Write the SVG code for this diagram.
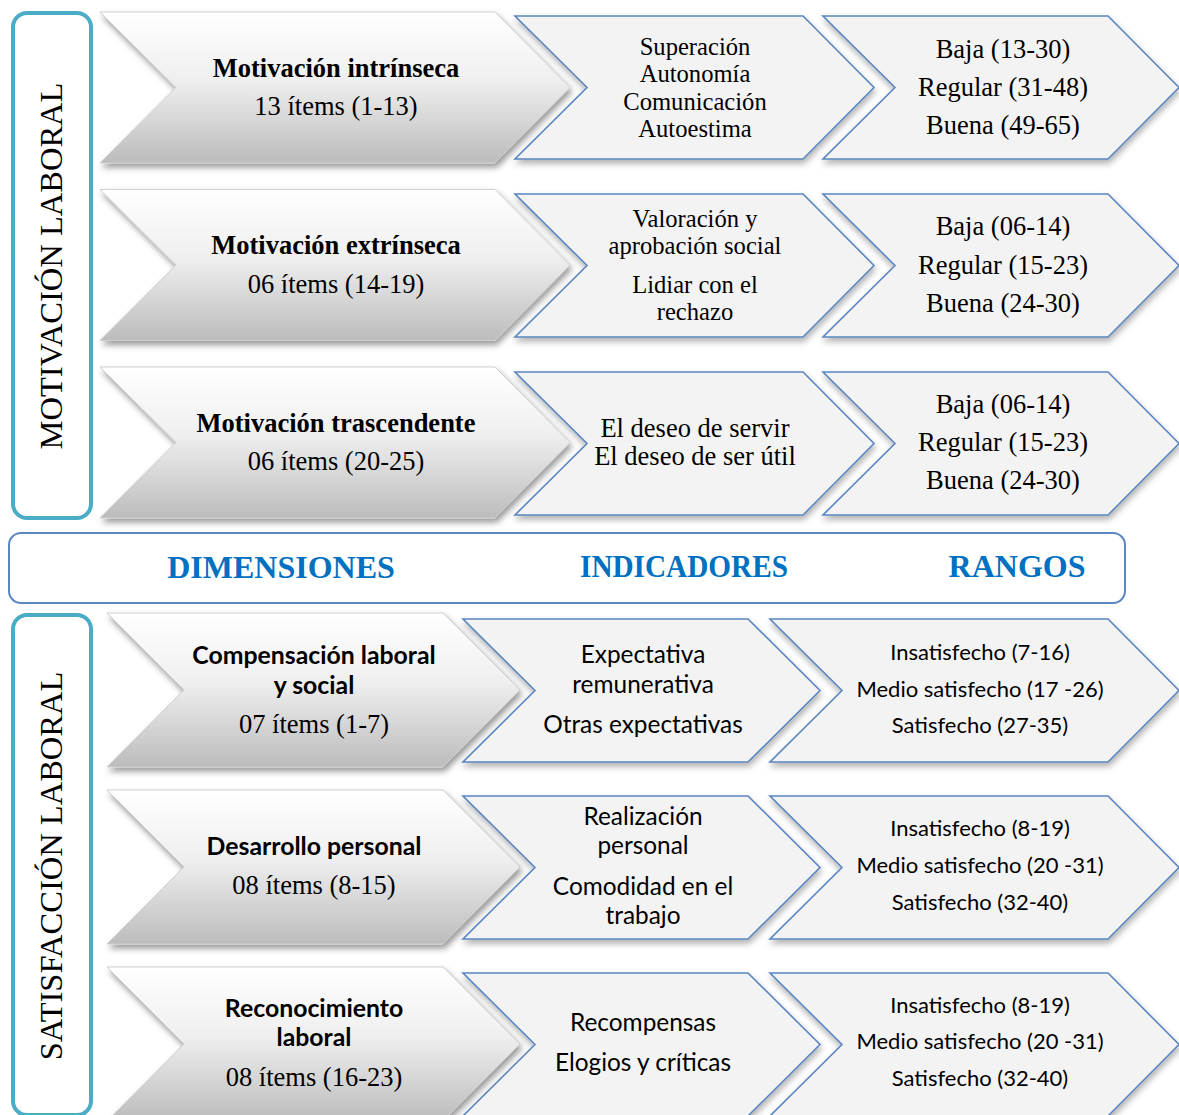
<svg xmlns="http://www.w3.org/2000/svg" width="1179" height="1115" viewBox="0 0 1179 1115">
<defs>
  <linearGradient id="gGray" x1="0" y1="0" x2="0" y2="1">
    <stop offset="0" stop-color="#ffffff"/>
    <stop offset="0.45" stop-color="#efefef"/>
    <stop offset="1" stop-color="#bcbcbc"/>
  </linearGradient>
  <filter id="shGray" x="-5%" y="-10%" width="115%" height="125%">
    <feDropShadow dx="2" dy="4" stdDeviation="3" flood-color="#000" flood-opacity="0.4"/>
  </filter>
  <filter id="shBlue" x="-5%" y="-10%" width="115%" height="125%">
    <feDropShadow dx="1" dy="4" stdDeviation="3" flood-color="#000" flood-opacity="0.3"/>
  </filter>
</defs>
<style>
  .gray{fill:url(#gGray);stroke:#cfcfcf;stroke-width:1;filter:url(#shGray)}
  .blue{fill:#f3f3f3;stroke:#5b86c0;stroke-width:1.6;filter:url(#shBlue)}
  .side{fill:#ffffff;stroke:#4bacc6;stroke-width:4}
  .band{fill:#ffffff;stroke:#5b86c0;stroke-width:2}
  .tr{font-family:"Liberation Serif","Times New Roman",serif;font-size:26.5px;fill:#000;text-anchor:middle}
  .trs{font-family:"Liberation Serif","Times New Roman",serif;font-size:24.6px;fill:#000;text-anchor:middle}
  .trb{font-family:"Liberation Serif","Times New Roman",serif;font-size:26.5px;font-weight:bold;fill:#000;text-anchor:middle}
  .sn{font-family:Lato,"Liberation Sans",sans-serif;font-size:24.4px;fill:#000;text-anchor:middle}
  .snb{font-family:Lato,"Liberation Sans",sans-serif;font-size:24.8px;font-weight:bold;fill:#000;text-anchor:middle}
  .ss{font-family:Lato,"Liberation Sans",sans-serif;font-size:22px;fill:#000;text-anchor:middle}
  .vt{font-family:"Liberation Serif","Times New Roman",serif;font-size:32.5px;fill:#000;text-anchor:middle}
  .hd{font-family:"Liberation Serif","Times New Roman",serif;font-size:32px;font-weight:bold;fill:#0070c0;text-anchor:middle}
</style>

<g id="side-motivacion">
  <rect class="side" x="13" y="13" width="78" height="505" rx="14"/>
  <text class="vt" transform="translate(62,266) rotate(-90)">MOTIVACIÓN LABORAL</text>
</g>

<g id="dim-intrinseca">
  <path class="gray" d="M100,12 L495,12 L570,87.5 L495,163 L100,163 L176,87.5 Z"/>
  <text class="trb" x="336" y="77">Motivación intrínseca</text>
  <text class="tr" x="336" y="115">13 ítems (1-13)</text>
</g>
<g id="ind-intrinseca">
  <path class="blue" d="M515,16 L803,16 L874,87.5 L803,159 L515,159 L587,87.5 Z"/>
  <text class="trs" x="695" y="54.5">Superación</text>
  <text class="trs" x="695" y="82">Autonomía</text>
  <text class="trs" x="695" y="109.5">Comunicación</text>
  <text class="trs" x="695" y="137">Autoestima</text>
</g>
<g id="ran-intrinseca">
  <path class="blue" d="M823,16 L1108,16 L1179,87.5 L1108,159 L823,159 L895,87.5 Z"/>
  <text class="tr" x="1003" y="58">Baja (13-30)</text>
  <text class="tr" x="1003" y="96">Regular (31-48)</text>
  <text class="tr" x="1003" y="134">Buena (49-65)</text>
</g>

<g id="dim-extrinseca">
  <path class="gray" d="M100,189.5 L495,189.5 L570,265 L495,340.5 L100,340.5 L176,265 Z"/>
  <text class="trb" x="336" y="254">Motivación extrínseca</text>
  <text class="tr" x="336" y="293">06 ítems (14-19)</text>
</g>
<g id="ind-extrinseca">
  <path class="blue" d="M515,194 L803,194 L874,265.5 L803,337 L515,337 L587,265.5 Z"/>
  <text class="trs" x="695" y="226.5">Valoración y</text>
  <text class="trs" x="695" y="254">aprobación social</text>
  <text class="trs" x="695" y="292.5">Lidiar con el</text>
  <text class="trs" x="695" y="320">rechazo</text>
</g>
<g id="ran-extrinseca">
  <path class="blue" d="M823,194 L1108,194 L1179,265.5 L1108,337 L823,337 L895,265.5 Z"/>
  <text class="tr" x="1003" y="235">Baja (06-14)</text>
  <text class="tr" x="1003" y="274">Regular (15-23)</text>
  <text class="tr" x="1003" y="312">Buena (24-30)</text>
</g>

<g id="dim-trascendente">
  <path class="gray" d="M100,367 L495,367 L570,442.5 L495,518 L100,518 L176,442.5 Z"/>
  <text class="trb" x="336" y="432">Motivación trascendente</text>
  <text class="tr" x="336" y="470">06 ítems (20-25)</text>
</g>
<g id="ind-trascendente">
  <path class="blue" d="M515,372 L803,372 L874,443.5 L803,515 L515,515 L587,443.5 Z"/>
  <text class="tr" x="695" y="437">El deseo de servir</text>
  <text class="tr" x="695" y="465">El deseo de ser útil</text>
</g>
<g id="ran-trascendente">
  <path class="blue" d="M823,372 L1108,372 L1179,443.5 L1108,515 L823,515 L895,443.5 Z"/>
  <text class="tr" x="1003" y="413">Baja (06-14)</text>
  <text class="tr" x="1003" y="451">Regular (15-23)</text>
  <text class="tr" x="1003" y="489">Buena (24-30)</text>
</g>

<g id="header-band">
  <rect class="band" x="9" y="533" width="1116" height="70" rx="12"/>
  <text class="hd" x="281" y="578">DIMENSIONES</text>
  <text class="hd" x="684" y="577" textLength="208" lengthAdjust="spacingAndGlyphs">INDICADORES</text>
  <text class="hd" x="1017" y="577">RANGOS</text>
</g>

<g id="side-satisfaccion">
  <rect class="side" x="13" y="615" width="78" height="500" rx="14"/>
  <text class="vt" transform="translate(62,866) rotate(-90)">SATISFACCIÓN LABORAL</text>
</g>

<g id="dim-compensacion">
  <path class="gray" d="M107,613 L443,613 L520,690 L443,767 L107,767 L184,690 Z"/>
  <text class="snb" x="314" y="664">Compensación laboral</text>
  <text class="snb" x="314" y="694">y social</text>
  <text class="tr" x="314" y="733">07 ítems (1-7)</text>
</g>
<g id="ind-compensacion">
  <path class="blue" d="M463,619 L748,619 L820,690.5 L748,762 L463,762 L535,690.5 Z"/>
  <text class="sn" x="643" y="663">Expectativa</text>
  <text class="sn" x="643" y="693">remunerativa</text>
  <text class="sn" x="643" y="733">Otras expectativas</text>
</g>
<g id="ran-compensacion">
  <path class="blue" d="M770,619 L1108,619 L1179,690.5 L1108,762 L770,762 L842,690.5 Z"/>
  <text class="ss" x="980" y="660">Insatisfecho (7-16)</text>
  <text class="ss" x="980" y="697">Medio satisfecho (17 -26)</text>
  <text class="ss" x="980" y="733">Satisfecho (27-35)</text>
</g>

<g id="dim-desarrollo">
  <path class="gray" d="M107,790 L443,790 L520,867 L443,944 L107,944 L184,867 Z"/>
  <text class="snb" x="314" y="855">Desarrollo personal</text>
  <text class="tr" x="314" y="894">08 ítems (8-15)</text>
</g>
<g id="ind-desarrollo">
  <path class="blue" d="M463,796 L748,796 L820,867.5 L748,939 L463,939 L535,867.5 Z"/>
  <text class="sn" x="643" y="825">Realización</text>
  <text class="sn" x="643" y="854">personal</text>
  <text class="sn" x="643" y="895">Comodidad en el</text>
  <text class="sn" x="643" y="924">trabajo</text>
</g>
<g id="ran-desarrollo">
  <path class="blue" d="M770,796 L1108,796 L1179,867.5 L1108,939 L770,939 L842,867.5 Z"/>
  <text class="ss" x="980" y="836">Insatisfecho (8-19)</text>
  <text class="ss" x="980" y="873">Medio satisfecho (20 -31)</text>
  <text class="ss" x="980" y="910">Satisfecho (32-40)</text>
</g>

<g id="dim-reconocimiento">
  <path class="gray" d="M107,967 L443,967 L520,1044 L443,1121 L107,1121 L184,1044 Z"/>
  <text class="snb" x="314" y="1017">Reconocimiento</text>
  <text class="snb" x="314" y="1046">laboral</text>
  <text class="tr" x="314" y="1086">08 ítems (16-23)</text>
</g>
<g id="ind-reconocimiento">
  <path class="blue" d="M463,973 L748,973 L820,1044.5 L748,1116 L463,1116 L535,1044.5 Z"/>
  <text class="sn" x="643" y="1031">Recompensas</text>
  <text class="sn" x="643" y="1071">Elogios y críticas</text>
</g>
<g id="ran-reconocimiento">
  <path class="blue" d="M770,973 L1108,973 L1179,1044.5 L1108,1116 L770,1116 L842,1044.5 Z"/>
  <text class="ss" x="980" y="1013">Insatisfecho (8-19)</text>
  <text class="ss" x="980" y="1049">Medio satisfecho (20 -31)</text>
  <text class="ss" x="980" y="1086">Satisfecho (32-40)</text>
</g>

<g id="connectors"></g>
</svg>
